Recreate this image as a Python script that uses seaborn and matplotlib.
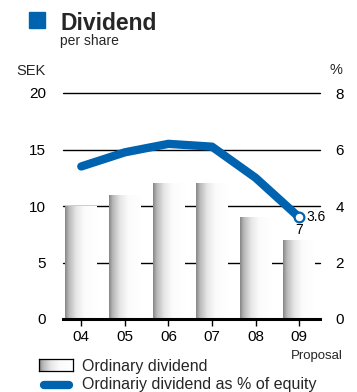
import numpy as np
import pandas as pd
import matplotlib
matplotlib.use("Agg")
import matplotlib.pyplot as plt
import seaborn as sns
from matplotlib.colors import LinearSegmentedColormap
from matplotlib.lines import Line2D
from matplotlib.patches import Rectangle

# Dividend per share (SEK) and ordinary dividend as % of equity
years = ["04", "05", "06", "07", "08", "09"]
dividend_sek = [10, 11, 12, 12, 9, 7]
dividend_pct_equity = [5.4, 5.9, 6.2, 6.1, 5.0, 3.6]
sek_ticks = [0, 5, 10, 15, 20]
pct_ticks = [0, 2, 4, 6, 8]

sns.set_theme(style="white")
plt.rcParams["font.family"] = ["Liberation Sans", "DejaVu Sans"]

BLUE = "#0063AF"
W, H = 357, 392
fig = plt.figure(figsize=(W / 100, H / 100), dpi=100)
fig.patch.set_facecolor("white")

ax = fig.add_axes([63 / W, 1 - 319 / H, (320 - 63) / W, (319 - 93) / H])

# Cylinder-like shading for the bars
shade = LinearSegmentedColormap.from_list(
    "shade",
    [(0.0, "#858585"), (0.12, "#b8b8b8"), (0.35, "#e6e6e6"),
     (0.6, "#fbfbfb"), (1.0, "#ffffff")],
)

df = pd.DataFrame({"year": years, "sek": dividend_sek})
sns.barplot(data=df, x="year", y="sek", ax=ax, width=0.73,
            color="white", zorder=2, errorbar=None)

grad = np.linspace(0, 1, 256).reshape(1, -1)
for bar in ax.patches:
    x0, y0 = bar.get_x(), bar.get_y()
    w, h = bar.get_width(), bar.get_height()
    bar.set_edgecolor("none")
    im = ax.imshow(grad, cmap=shade, extent=[x0, x0 + w, y0, y0 + h],
                   aspect="auto", zorder=2.1, interpolation="bilinear")
    im.set_clip_path(bar)

# Horizontal reference lines behind the bars
for v in sek_ticks[1:]:
    ax.axhline(v, color="black", lw=1.0, zorder=1, clip_on=False)

ax.set_xlim(-0.42, 5.48)
ax.set_ylim(0, 20)
ax.set_yticks(sek_ticks)
ax.set_xticks(range(len(years)))
ax.set_xticklabels(years)
ax.set_xlabel("")
ax.set_ylabel("")
for s in ["top", "right", "left"]:
    ax.spines[s].set_visible(False)
ax.spines["bottom"].set_color("black")
ax.spines["bottom"].set_linewidth(2.2)
ax.spines["bottom"].set_zorder(4)
ax.tick_params(axis="y", left=False, length=0, pad=12, labelsize=11,
               labelcolor="black")
ax.tick_params(axis="x", bottom=True, direction="out", length=5, width=1,
               color="black", pad=3, labelsize=11, labelcolor="black")
ax.set_facecolor("none")

ax.annotate(f"{dividend_sek[-1]}", xy=(5, dividend_sek[-1]), xytext=(0, 2),
            textcoords="offset points", ha="center", va="bottom",
            fontsize=10, color="black")

# Percentage line on the secondary axis
ax2 = ax.twinx()
xpos = np.arange(len(years))
sns.lineplot(x=xpos, y=dividend_pct_equity, ax=ax2, color=BLUE, lw=6,
             solid_capstyle="round", solid_joinstyle="round", zorder=5)
ax2.plot(xpos[-1], dividend_pct_equity[-1], marker="o", ms=7,
         mfc="white", mec=BLUE, mew=1.6, zorder=6)
ax2.annotate(f"{dividend_pct_equity[-1]}", xy=(xpos[-1], dividend_pct_equity[-1]),
             xytext=(5.5, 0), textcoords="offset points", ha="left",
             va="center", fontsize=10, color="black")
ax2.set_ylim(0, 8)
ax2.set_yticks(pct_ticks)
ax2.set_ylabel("")
for s in ax2.spines.values():
    s.set_visible(False)
ax2.tick_params(axis="y", right=True, length=0, pad=11, labelsize=11,
                labelcolor="black")
ax2.set_xlim(-0.42, 5.48)

# Title block
fig.patches.append(Rectangle((29 / W, 1 - 28 / H), 16 / W, 16 / H,
                             transform=fig.transFigure, color=BLUE))
fig.text(60 / W, 1 - 29.5 / H, "Dividend", fontsize=16.5, fontweight="bold",
         va="baseline", ha="left")
fig.text(60 / W, 1 - 45 / H, "per share", fontsize=10, va="baseline", ha="left")
fig.text(46 / W, 1 - 75 / H, "SEK", fontsize=10.5, va="baseline", ha="right")
fig.text(330 / W, 1 - 74 / H, "%", fontsize=10.5, va="baseline", ha="left")
fig.text(343 / W, 1 - 356 / H, "Proposal", fontsize=9.5, va="center", ha="right")

# Legend
lax = fig.add_axes([39 / W, 1 - 371 / H, 34 / W, 12 / H])
lax.imshow(grad, cmap=shade, aspect="auto", extent=[0, 1, 0, 1],
           interpolation="bilinear")
lax.set_xticks([])
lax.set_yticks([])
for s in lax.spines.values():
    s.set_visible(True)
    s.set_color("black")
    s.set_linewidth(0.9)
fig.text(82 / W, 1 - 366 / H, "Ordinary dividend", fontsize=11.5,
         va="center", ha="left")
fig.add_artist(Line2D([44 / W, 69 / W], [1 - 385 / H, 1 - 385 / H], lw=6,
                      color=BLUE, solid_capstyle="round",
                      transform=fig.transFigure))
fig.text(82 / W, 1 - 385 / H, "Ordinariy dividend as % of equity", fontsize=11.5,
         va="center", ha="left")

fig.savefig("out.png", dpi=100, facecolor="white")
